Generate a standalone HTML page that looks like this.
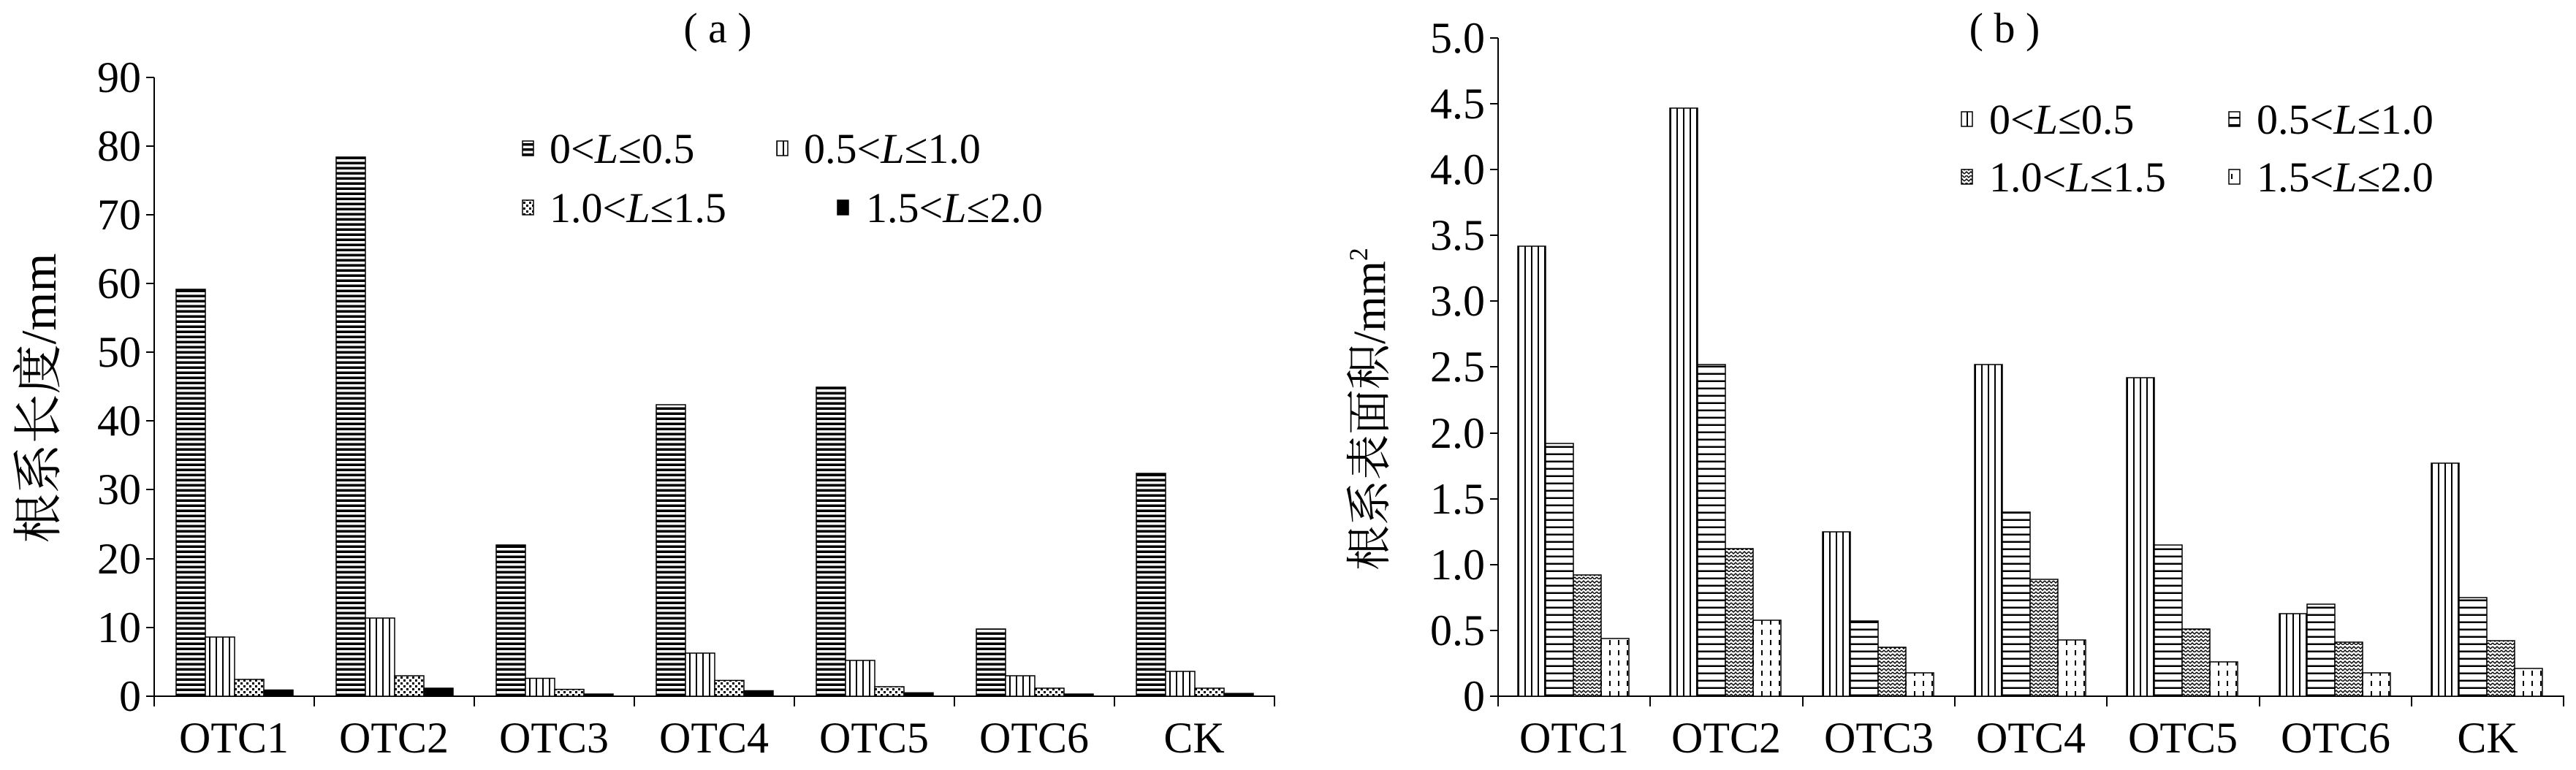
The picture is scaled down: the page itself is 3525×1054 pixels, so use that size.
<!DOCTYPE html>
<html><head><meta charset="utf-8"><style>
html,body{margin:0;padding:0;background:#fff;}
svg{display:block;}
text{font-family:"Liberation Serif","Noto Serif CJK SC",serif;fill:#000;}
</style></head><body>
<svg width="3525" height="1054" viewBox="0 0 3525 1054" xmlns="http://www.w3.org/2000/svg">
<defs>
<pattern id="hs" width="10" height="7" patternUnits="userSpaceOnUse"><rect width="10" height="7" fill="#fff"/><rect width="10" height="3.5" fill="#000"/></pattern>
<pattern id="hs2" width="10" height="10" patternUnits="userSpaceOnUse"><rect width="10" height="10" fill="#fff"/><rect width="10" height="2.5" fill="#000"/></pattern>
<pattern id="vs" width="9" height="10" patternUnits="userSpaceOnUse"><rect width="9" height="10" fill="#fff"/><rect width="2" height="10" fill="#000"/></pattern>
<pattern id="dt" width="8" height="8" patternUnits="userSpaceOnUse"><rect width="8" height="8" fill="#fff"/><rect x="0" y="0" width="3" height="3" fill="#000"/><rect x="4" y="4" width="3" height="3" fill="#000"/></pattern>
<pattern id="wv" width="12" height="10" patternUnits="userSpaceOnUse"><rect width="12" height="10" fill="#fff"/><path d="M0 3 L3 0 L6 3 L9 0 L12 3 M0 8 L3 5 L6 8 L9 5 L12 8" stroke="#000" stroke-width="1.5" fill="none"/></pattern>
<pattern id="dv" width="12" height="14" patternUnits="userSpaceOnUse"><rect width="12" height="14" fill="#fff"/><rect x="5" y="0" width="2" height="7" fill="#000"/></pattern>
</defs>

<!-- Chart (a) -->
<text x="982" y="58" font-size="58" text-anchor="middle">( a )</text>
<g stroke="#000" stroke-width="2">
<line x1="211" y1="106" x2="211" y2="953"/>
<line x1="211" y1="953" x2="1745" y2="953"/>
<line x1="200" y1="106" x2="211" y2="106"/><line x1="200" y1="200" x2="211" y2="200"/><line x1="200" y1="294" x2="211" y2="294"/><line x1="200" y1="388" x2="211" y2="388"/><line x1="200" y1="482" x2="211" y2="482"/><line x1="200" y1="576" x2="211" y2="576"/><line x1="200" y1="670" x2="211" y2="670"/><line x1="200" y1="765" x2="211" y2="765"/><line x1="200" y1="859" x2="211" y2="859"/><line x1="200" y1="953" x2="211" y2="953"/>
<line x1="211" y1="953" x2="211" y2="967"/><line x1="430" y1="953" x2="430" y2="967"/><line x1="649" y1="953" x2="649" y2="967"/><line x1="868" y1="953" x2="868" y2="967"/><line x1="1087" y1="953" x2="1087" y2="967"/><line x1="1306" y1="953" x2="1306" y2="967"/><line x1="1525" y1="953" x2="1525" y2="967"/><line x1="1744" y1="953" x2="1744" y2="967"/>
</g>
<g font-size="60" text-anchor="end">
<text x="193" y="126">90</text><text x="193" y="220">80</text><text x="193" y="314">70</text><text x="193" y="408">60</text><text x="193" y="502">50</text><text x="193" y="596">40</text><text x="193" y="690">30</text><text x="193" y="785">20</text><text x="193" y="879">10</text><text x="193" y="973">0</text>
</g>
<g font-size="60" text-anchor="middle">
<text x="320" y="1030">OTC1</text><text x="539" y="1030">OTC2</text><text x="758" y="1030">OTC3</text><text x="977" y="1030">OTC4</text><text x="1196" y="1030">OTC5</text><text x="1415" y="1030">OTC6</text><text x="1634" y="1030">CK</text>
</g>
<text transform="translate(76,545) rotate(-90)" font-size="68" text-anchor="middle">根系长度/mm</text>

<g stroke="#000" stroke-width="1.5">
<g transform="translate(241,953) scale(1,-1)"><rect x="0" y="0" width="40" height="557" fill="url(#hs)"/><rect x="40" y="0" width="40" height="81" fill="url(#vs)"/><rect x="80" y="0" width="40" height="23" fill="url(#dt)"/><rect x="120" y="0" width="40" height="8.5" fill="#000"/></g>
<g transform="translate(460,953) scale(1,-1)"><rect x="0" y="0" width="40" height="738" fill="url(#hs)"/><rect x="40" y="0" width="40" height="107" fill="url(#vs)"/><rect x="80" y="0" width="40" height="28" fill="url(#dt)"/><rect x="120" y="0" width="40" height="11" fill="#000"/></g>
<g transform="translate(679,953) scale(1,-1)"><rect x="0" y="0" width="40" height="207" fill="url(#hs)"/><rect x="40" y="0" width="40" height="24.5" fill="url(#vs)"/><rect x="80" y="0" width="40" height="9.4" fill="url(#dt)"/><rect x="120" y="0" width="40" height="3" fill="#000"/></g>
<g transform="translate(898,953) scale(1,-1)"><rect x="0" y="0" width="40" height="399" fill="url(#hs)"/><rect x="40" y="0" width="40" height="59" fill="url(#vs)"/><rect x="80" y="0" width="40" height="21.6" fill="url(#dt)"/><rect x="120" y="0" width="40" height="7.5" fill="#000"/></g>
<g transform="translate(1117,953) scale(1,-1)"><rect x="0" y="0" width="40" height="423" fill="url(#hs)"/><rect x="40" y="0" width="40" height="49" fill="url(#vs)"/><rect x="80" y="0" width="40" height="13" fill="url(#dt)"/><rect x="120" y="0" width="40" height="4.7" fill="#000"/></g>
<g transform="translate(1336,953) scale(1,-1)"><rect x="0" y="0" width="40" height="92" fill="url(#hs)"/><rect x="40" y="0" width="40" height="28" fill="url(#vs)"/><rect x="80" y="0" width="40" height="11" fill="url(#dt)"/><rect x="120" y="0" width="40" height="3" fill="#000"/></g>
<g transform="translate(1555,953) scale(1,-1)"><rect x="0" y="0" width="40" height="305" fill="url(#hs)"/><rect x="40" y="0" width="40" height="34" fill="url(#vs)"/><rect x="80" y="0" width="40" height="11" fill="url(#dt)"/><rect x="120" y="0" width="40" height="3.8" fill="#000"/></g>
</g>

<!-- legend a -->
<g stroke="#000" stroke-width="1.5">
<rect x="715" y="193" width="15" height="20" fill="url(#hs)"/>
<rect x="1063" y="193" width="15" height="20" fill="url(#vs)"/>
<rect x="715" y="274" width="15" height="20" fill="url(#dt)"/>
<rect x="1146" y="274" width="15" height="20" fill="#000"/>
</g>
<g font-size="58">
<text x="752" y="223">0&lt;<tspan font-style="italic">L</tspan>≤0.5</text>
<text x="1100" y="223">0.5&lt;<tspan font-style="italic">L</tspan>≤1.0</text>
<text x="752" y="304">1.0&lt;<tspan font-style="italic">L</tspan>≤1.5</text>
<text x="1185" y="304">1.5&lt;<tspan font-style="italic">L</tspan>≤2.0</text>
</g>

<!-- Chart (b) -->
<text x="2743" y="58" font-size="58" text-anchor="middle">( b )</text>
<g stroke="#000" stroke-width="2">
<line x1="2050" y1="52" x2="2050" y2="953"/>
<line x1="2050" y1="953" x2="3509" y2="953"/>
<line x1="2039" y1="52" x2="2050" y2="52"/><line x1="2039" y1="142" x2="2050" y2="142"/><line x1="2039" y1="232" x2="2050" y2="232"/><line x1="2039" y1="322" x2="2050" y2="322"/><line x1="2039" y1="412" x2="2050" y2="412"/><line x1="2039" y1="502" x2="2050" y2="502"/><line x1="2039" y1="593" x2="2050" y2="593"/><line x1="2039" y1="683" x2="2050" y2="683"/><line x1="2039" y1="773" x2="2050" y2="773"/><line x1="2039" y1="863" x2="2050" y2="863"/><line x1="2039" y1="953" x2="2050" y2="953"/>
<line x1="2050" y1="953" x2="2050" y2="967"/><line x1="2258" y1="953" x2="2258" y2="967"/><line x1="2467" y1="953" x2="2467" y2="967"/><line x1="2675" y1="953" x2="2675" y2="967"/><line x1="2883" y1="953" x2="2883" y2="967"/><line x1="3092" y1="953" x2="3092" y2="967"/><line x1="3300" y1="953" x2="3300" y2="967"/><line x1="3508" y1="953" x2="3508" y2="967"/>
</g>
<g font-size="60" text-anchor="end">
<text x="2032" y="72">5.0</text><text x="2032" y="162">4.5</text><text x="2032" y="252">4.0</text><text x="2032" y="342">3.5</text><text x="2032" y="432">3.0</text><text x="2032" y="522">2.5</text><text x="2032" y="613">2.0</text><text x="2032" y="703">1.5</text><text x="2032" y="793">1.0</text><text x="2032" y="883">0.5</text><text x="2032" y="973">0</text>
</g>
<g font-size="60" text-anchor="middle">
<text x="2154" y="1030">OTC1</text><text x="2362" y="1030">OTC2</text><text x="2571" y="1030">OTC3</text><text x="2779" y="1030">OTC4</text><text x="2987" y="1030">OTC5</text><text x="3196" y="1030">OTC6</text><text x="3404" y="1030">CK</text>
</g>
<text transform="translate(1895,560) rotate(-90)" font-size="62" text-anchor="middle">根系表面积/mm<tspan font-size="36" dy="-24">2</tspan></text>

<g stroke="#000" stroke-width="1.5">
<g transform="translate(2077,953) scale(1,-1)"><rect x="0" y="0" width="38" height="616" fill="url(#vs)"/><rect x="38" y="0" width="38" height="346" fill="url(#hs2)"/><rect x="76" y="0" width="38" height="166" fill="url(#wv)"/><rect x="114" y="0" width="38" height="79" fill="url(#dv)"/></g>
<g transform="translate(2285,953) scale(1,-1)"><rect x="0" y="0" width="38" height="805" fill="url(#vs)"/><rect x="38" y="0" width="38" height="454" fill="url(#hs2)"/><rect x="76" y="0" width="38" height="202" fill="url(#wv)"/><rect x="114" y="0" width="38" height="104" fill="url(#dv)"/></g>
<g transform="translate(2494,953) scale(1,-1)"><rect x="0" y="0" width="38" height="225" fill="url(#vs)"/><rect x="38" y="0" width="38" height="103" fill="url(#hs2)"/><rect x="76" y="0" width="38" height="67" fill="url(#wv)"/><rect x="114" y="0" width="38" height="32" fill="url(#dv)"/></g>
<g transform="translate(2702,953) scale(1,-1)"><rect x="0" y="0" width="38" height="454" fill="url(#vs)"/><rect x="38" y="0" width="38" height="252" fill="url(#hs2)"/><rect x="76" y="0" width="38" height="160" fill="url(#wv)"/><rect x="114" y="0" width="38" height="77" fill="url(#dv)"/></g>
<g transform="translate(2910,953) scale(1,-1)"><rect x="0" y="0" width="38" height="436" fill="url(#vs)"/><rect x="38" y="0" width="38" height="207" fill="url(#hs2)"/><rect x="76" y="0" width="38" height="92" fill="url(#wv)"/><rect x="114" y="0" width="38" height="47" fill="url(#dv)"/></g>
<g transform="translate(3119,953) scale(1,-1)"><rect x="0" y="0" width="38" height="113" fill="url(#vs)"/><rect x="38" y="0" width="38" height="126" fill="url(#hs2)"/><rect x="76" y="0" width="38" height="74" fill="url(#wv)"/><rect x="114" y="0" width="38" height="32" fill="url(#dv)"/></g>
<g transform="translate(3327,953) scale(1,-1)"><rect x="0" y="0" width="38" height="319" fill="url(#vs)"/><rect x="38" y="0" width="38" height="135" fill="url(#hs2)"/><rect x="76" y="0" width="38" height="76" fill="url(#wv)"/><rect x="114" y="0" width="38" height="38" fill="url(#dv)"/></g>
</g>

<!-- legend b -->
<g stroke="#000" stroke-width="1.5">
<rect x="2684" y="153" width="15" height="20" fill="url(#vs)"/>
<rect x="3050" y="153" width="15" height="20" fill="url(#hs2)"/>
<rect x="2684" y="232" width="15" height="20" fill="url(#wv)"/>
<rect x="3050" y="232" width="15" height="20" fill="url(#dv)"/>
</g>
<g font-size="58">
<text x="2722" y="183">0&lt;<tspan font-style="italic">L</tspan>≤0.5</text>
<text x="3088" y="183">0.5&lt;<tspan font-style="italic">L</tspan>≤1.0</text>
<text x="2722" y="262">1.0&lt;<tspan font-style="italic">L</tspan>≤1.5</text>
<text x="3088" y="262">1.5&lt;<tspan font-style="italic">L</tspan>≤2.0</text>
</g>
</svg>
</body></html>
